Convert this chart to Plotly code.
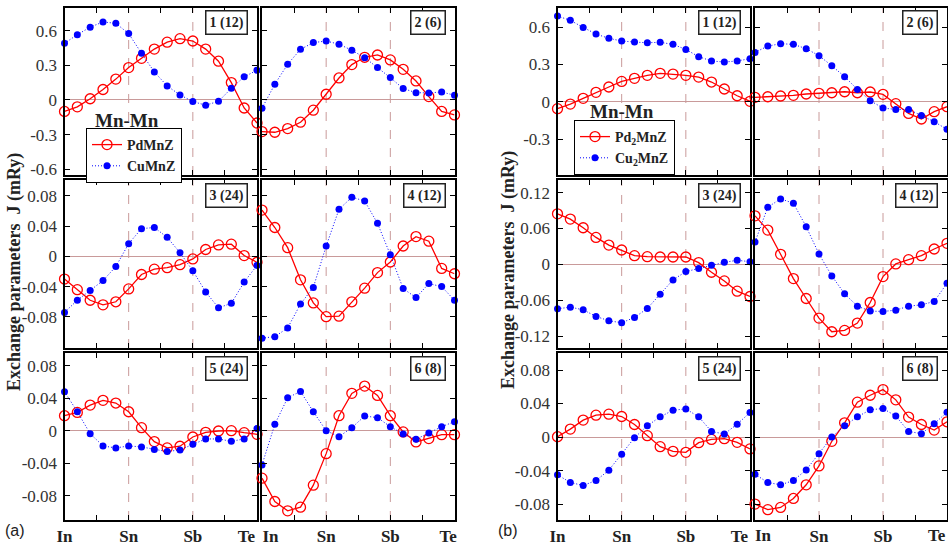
import plotly.graph_objects as go

# ---------------- data ----------------
X = [0.0, 0.2, 0.4, 0.6, 0.8, 1.0, 1.2, 1.4, 1.6, 1.8, 2.0, 2.2, 2.4, 2.6, 2.8, 3.0]
x_tick_vals = [0, 0.5, 1, 1.5, 2, 2.5, 3]
x_tick_text_left = ["In", "", "Sn", "", "Sb", "", "Te&nbsp;&nbsp;&nbsp;&nbsp;&nbsp;"]
x_tick_text_right = ["&nbsp;&nbsp;&nbsp;&nbsp;In", "", "Sn", "", "Sb", "", "Te&nbsp;&nbsp;&nbsp;"]
x_tick_text_last = ["", "", "Sn", "", "Sb", "", ""]
end_labels = ["In", "Te"]

# panel (a): PdMnZ (red) and CuMnZ (blue)
pd_a1 = [-0.10, -0.06, 0.01, 0.09, 0.18, 0.28, 0.36, 0.44, 0.50, 0.53, 0.51, 0.44, 0.335, 0.15, -0.07, -0.20]
cu_a1 = [0.49, 0.565, 0.63, 0.675, 0.663, 0.574, 0.404, 0.242, 0.121, 0.043, -0.014, -0.046, -0.012, 0.10, 0.20, 0.257]
pd_a2 = [-0.274, -0.28, -0.248, -0.193, -0.089, 0.049, 0.19, 0.306, 0.369, 0.389, 0.346, 0.265, 0.164, 0.029, -0.10, -0.13]
cu_a2 = [-0.072, 0.136, 0.309, 0.438, 0.496, 0.51, 0.482, 0.43, 0.366, 0.28, 0.193, 0.098, 0.063, 0.06, 0.069, 0.04]
pd_a3 = [-0.030, -0.044, -0.058, -0.064, -0.060, -0.043, -0.024, -0.017, -0.015, -0.011, -0.0035, 0.009, 0.015, 0.016, 0.001, -0.008]
cu_a3 = [-0.074, -0.058, -0.045, -0.032, -0.0136, 0.0167, 0.0365, 0.038, 0.025, 0.0048, -0.019, -0.047, -0.068, -0.062, -0.034, -0.012]
pd_a4 = [0.061, 0.038, 0.0114, -0.031, -0.0615, -0.0796, -0.079, -0.060, -0.042, -0.0215, -0.0075, 0.0136, 0.026, 0.020, -0.016, -0.023]
cu_a4 = [-0.108, -0.106, -0.0945, -0.063, -0.041, 0.0136, 0.062, 0.078, 0.073, 0.0435, 0.002, -0.0426, -0.0545, -0.036, -0.040, -0.058]
pd_a5 = [0.0184, 0.0225, 0.0315, 0.0373, 0.034, 0.0233, 0.0037, -0.0135, -0.0213, -0.0192, -0.0078, -0.002, -0.0004, 0.0, -0.0025, -0.0045]
cu_a5 = [0.048, 0.0233, -0.0037, -0.0188, -0.0213, -0.0188, -0.020, -0.0233, -0.0258, -0.0237, -0.0168, -0.0102, -0.0102, -0.0131, -0.0102, 0.0025]
pd_a6 = [-0.0585, -0.0872, -0.0987, -0.0942, -0.0671, -0.0283, 0.0184, 0.0459, 0.0549, 0.0434, 0.0184, -0.0016, -0.0139, -0.0098, -0.0049, -0.0049]
cu_a6 = [-0.0422, 0.0078, 0.0405, 0.0483, 0.0233, 0.0, -0.0074, 0.0037, 0.018, 0.016, 0.0049, -0.0041, -0.0106, -0.0029, 0.0049, 0.0111]

# panel (b): Pd2MnZ (red) and Cu2MnZ (blue)
pd_b1 = [-0.056, -0.019, 0.027, 0.075, 0.118, 0.163, 0.188, 0.212, 0.228, 0.222, 0.212, 0.198, 0.158, 0.102, 0.048, 0.003]
cu_b1 = [0.688, 0.654, 0.597, 0.544, 0.509, 0.488, 0.479, 0.474, 0.477, 0.461, 0.42, 0.362, 0.327, 0.319, 0.327, 0.346]
pd_b2 = [0.035, 0.04, 0.046, 0.051, 0.062, 0.067, 0.072, 0.08, 0.072, 0.078, 0.059, -0.016, -0.094, -0.139, -0.08, -0.04]
cu_b2 = [0.396, 0.447, 0.466, 0.461, 0.426, 0.37, 0.289, 0.201, 0.099, 0.008, -0.051, -0.062, -0.062, -0.11, -0.161, -0.222]
pd_b3 = [0.0844, 0.0756, 0.0611, 0.045, 0.0322, 0.0239, 0.0144, 0.0128, 0.0122, 0.0122, 0.0122, 0.0028, -0.0133, -0.0278, -0.045, -0.0539]
cu_b3 = [-0.0744, -0.0717, -0.0761, -0.0872, -0.0944, -0.0978, -0.0889, -0.0739, -0.050, -0.0261, -0.0122, -0.0072, -0.0017, 0.0033, 0.0067, 0.0044]
pd_b4 = [0.0811, 0.0572, 0.0167, -0.0239, -0.0572, -0.090, -0.1128, -0.1106, -0.0983, -0.0639, -0.0206, 0.0006, 0.0078, 0.0144, 0.0256, 0.035]
cu_b4 = [0.0372, 0.0956, 0.1094, 0.1022, 0.0628, 0.0172, -0.0194, -0.0494, -0.070, -0.0783, -0.0789, -0.0767, -0.070, -0.0678, -0.0622, -0.0317]
pd_b5 = [0.0004, 0.0095, 0.0202, 0.0261, 0.0273, 0.0245, 0.015, 0.0016, -0.0115, -0.017, -0.0182, -0.0067, -0.0028, -0.002, -0.0063, -0.0142]
cu_b5 = [-0.0451, -0.0542, -0.0578, -0.0519, -0.0396, -0.0206, -0.0008, 0.0135, 0.0241, 0.032, 0.0336, 0.0241, 0.0067, 0.0036, 0.0154, 0.0293]
pd_b6 = [-0.080, -0.0867, -0.084, -0.0733, -0.057, -0.0345, -0.0051, 0.017, 0.0416, 0.0499, 0.0566, 0.0444, 0.0238, 0.015, 0.0083, 0.0182]
cu_b6 = [-0.0444, -0.0543, -0.057, -0.0519, -0.0392, -0.0198, 0.0, 0.0135, 0.0242, 0.0325, 0.0341, 0.025, 0.0067, 0.004, 0.0158, 0.0297]

shell_labels = ["1 (12)", "2 (6)", "3 (24)", "4 (12)", "5 (24)", "6 (8)"]

# y axis ranges / ticks per panel row
y_ranges_a = [[-0.65, 0.80], [-0.121, 0.1007], [-0.110, 0.0956]]
y_ranges_b = [[-0.589, 0.757], [-0.140, 0.141], [-0.099, 0.1003]]
y_ticks_a = [[-0.6, -0.3, 0, 0.3, 0.6], [-0.08, -0.04, 0, 0.04, 0.08], [-0.08, -0.04, 0, 0.04, 0.08]]
y_ticks_b = [[-0.6, -0.3, 0, 0.3, 0.6], [-0.12, -0.06, 0, 0.06, 0.12], [-0.08, -0.04, 0, 0.04, 0.08]]
y_ticktext_a = [["-0.6", "-0.3", "0", "0.3", "0.6"], ["-0.08", "-0.04", "0", "0.04", "0.08"], ["-0.08", "-0.04", "0", "0.04", "0.08"]]
y_ticktext_b = [["-0.6", "-0.3", "0", "0.3", "0.6"], ["-0.12", "-0.06", "0", "0.06", "0.12"], ["-0.08", "-0.04", "0", "0.04", "0.08"]]

legend_names_a = ["PdMnZ", "CuMnZ"]
legend_names_b = ["Pd<sub>2</sub>MnZ", "Cu<sub>2</sub>MnZ"]

# ---------------- layout geometry (pixels) ----------------
W, H = 948, 544
col_px = {"a": [(64.5, 257.0), (262.0, 454.5)], "b": [(557.5, 750.0), (755.0, 947.0)]}
row_px = [(7.5, 175.0), (180.0, 348.0), (353.0, 520.0)]

SERIF = "Liberation Serif, Times New Roman, serif"
RED = "#ff0000"
BLUE = "#0000ff"
REF = "#c99a9a"

series = {
    "a": [(pd_a1, cu_a1), (pd_a2, cu_a2), (pd_a3, cu_a3), (pd_a4, cu_a4), (pd_a5, cu_a5), (pd_a6, cu_a6)],
    "b": [(pd_b1, cu_b1), (pd_b2, cu_b2), (pd_b3, cu_b3), (pd_b4, cu_b4), (pd_b5, cu_b5), (pd_b6, cu_b6)],
}

fig = go.Figure()
layout = {}
shapes = []
annotations = []

k = 0
for p, panel in enumerate(["a", "b"]):
    yr = y_ranges_a if panel == "a" else y_ranges_b
    yt = y_ticks_a if panel == "a" else y_ticks_b
    ytt = y_ticktext_a if panel == "a" else y_ticktext_b
    names = legend_names_a if panel == "a" else legend_names_b
    legend_id = "legend" if panel == "a" else "legend2"
    for r in range(3):
        for c in range(2):
            k += 1
            idx = r * 2 + c
            xs = "" if k == 1 else str(k)
            x0, x1 = col_px[panel][c]
            t0, t1 = row_px[r]
            is_last = (panel == "b" and c == 1)
            if c == 0:
                ttext = x_tick_text_left
            elif is_last:
                ttext = x_tick_text_last
            else:
                ttext = x_tick_text_right
            layout["xaxis" + xs] = dict(
                domain=[x0 / W, x1 / W], range=[0, 3], anchor="y" + xs,
                tickvals=x_tick_vals, ticktext=ttext,
                showticklabels=(r == 2), ticks="inside", ticklen=5, tickwidth=1,
                tickcolor="black", mirror="ticks", showline=True, linewidth=2,
                linecolor="black", showgrid=False, zeroline=False, automargin=False,
                ticklabeloverflow="allow",
                tickfont=dict(family=SERIF, size=17, color="#222", weight="bold"),
            )
            layout["yaxis" + xs] = dict(
                domain=[1 - t1 / H, 1 - t0 / H], range=yr[r], anchor="x" + xs,
                tickvals=yt[r], ticktext=ytt[r], showticklabels=(c == 0),
                ticks="inside", ticklen=5, tickwidth=1, tickcolor="black",
                mirror="ticks", showline=True, linewidth=2, linecolor="black",
                showgrid=False, zeroline=True, zerolinecolor=REF, zerolinewidth=1,
                automargin=False, ticklabeloverflow="allow",
                tickfont=dict(family=SERIF, size=17, color="#333"),
                ticklabelstandoff=2,
            )
            if is_last and r == 2:
                # end labels of the last axis placed as paper-anchored text
                annotations.append(dict(
                    text="<b>" + end_labels[0] + "</b>", xref="paper", x=x0 / W, xanchor="left",
                    yref="paper", y=1 - 535 / H, yanchor="middle", showarrow=False, xshift=-2,
                    font=dict(family=SERIF, size=17, color="#222"),
                ))
                annotations.append(dict(
                    text="<b>" + end_labels[1] + "</b>", xref="paper", x=x1 / W, xanchor="right",
                    yref="paper", y=1 - 535 / H, yanchor="middle", showarrow=False, xshift=1,
                    font=dict(family=SERIF, size=17, color="#222"),
                ))
            red, blue = series[panel][idx]
            first = (idx == 0)
            fig.add_trace(go.Scatter(
                x=X, y=red, mode="lines+markers", name=names[0],
                line=dict(color=RED, width=1.3),
                marker=dict(symbol="circle-open", size=10, color=RED, line=dict(width=1.3)),
                xaxis="x" + xs, yaxis="y" + xs, cliponaxis=False,
                showlegend=first, legend=legend_id,
            ))
            fig.add_trace(go.Scatter(
                x=X, y=blue, mode="lines+markers", name=names[1],
                line=dict(color=BLUE, width=1, dash="1px,2px"),
                marker=dict(symbol="circle", size=7, color=BLUE),
                xaxis="x" + xs, yaxis="y" + xs, cliponaxis=False,
                showlegend=first, legend=legend_id,
            ))
            for xv in (1, 2):
                shapes.append(dict(type="line", xref="x" + xs, yref="y" + xs + " domain",
                                   x0=xv, x1=xv, y0=0, y1=1, layer="below",
                                   line=dict(color=REF, width=1, dash="dash")))
            annotations.append(dict(
                text="<b>" + shell_labels[idx] + "</b>", xref="x" + xs + " domain",
                yref="y" + xs + " domain", x=0.955, y=0.985, xanchor="right", yanchor="top",
                showarrow=False, font=dict(family=SERIF, size=14, color="#222"),
                bordercolor="#222", borderwidth=1.5, borderpad=3, bgcolor="white",
            ))

# panel-level texts
for xc, lab in ((15, "(a)"), (508, "(b)")):
    annotations.append(dict(text=lab, x=xc / W, y=1 - 530 / H, xref="paper", yref="paper",
                            xanchor="center", yanchor="middle", showarrow=False,
                            font=dict(family="Liberation Sans, Arial, sans-serif", size=16, color="#222")))
for xc, yc in ((14, 272), (508, 270)):
    annotations.append(dict(text="<b>Exchange parameters&nbsp;&nbsp;J (mRy)</b>", x=xc / W, y=1 - yc / H,
                            xref="paper", yref="paper", textangle=-90, showarrow=False,
                            xanchor="center", yanchor="middle",
                            font=dict(family=SERIF, size=18, color="#222")))
for xc, yc in ((127, 120), (622, 112)):
    annotations.append(dict(text="<b>Mn-Mn</b>", x=xc / W, y=1 - yc / H, xref="paper", yref="paper",
                            xanchor="center", yanchor="middle", showarrow=False,
                            font=dict(family=SERIF, size=19, color="#222")))

legend_style = dict(bordercolor="black", borderwidth=1, bgcolor="white",
                    font=dict(family=SERIF, size=14, color="#222", weight="bold"),
                    xanchor="left", yanchor="top", tracegroupgap=0, itemwidth=30)
layout["legend"] = dict(x=86 / W, y=1 - 128 / H, **legend_style)
layout["legend2"] = dict(x=574 / W, y=1 - 120 / H, **legend_style)

fig.update_layout(
    width=W, height=H, margin=dict(l=0, r=0, t=0, b=0, autoexpand=False),
    paper_bgcolor="white", plot_bgcolor="white",
    shapes=shapes, annotations=annotations, showlegend=True, **layout,
)

fig.write_html("out.html")
